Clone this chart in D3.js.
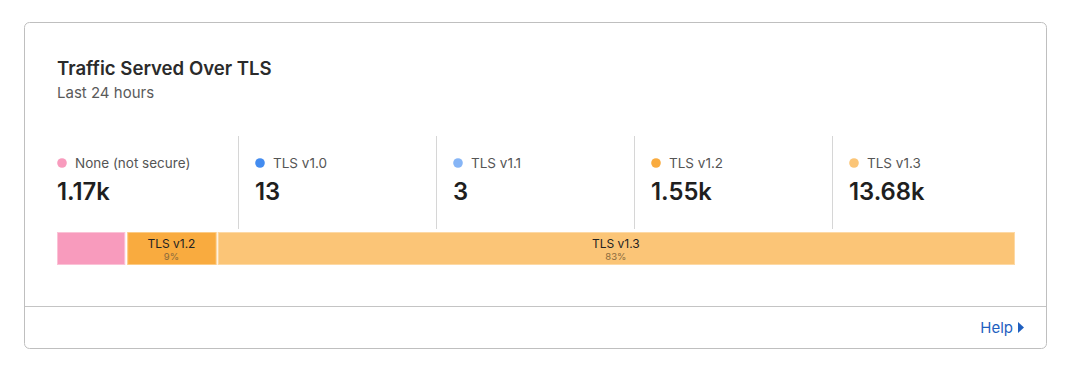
<!DOCTYPE html>
<html>
<head>
<meta charset="utf-8">
<script src="https://cdn.jsdelivr.net/npm/d3@7"></script>
<style>
  html, body { margin: 0; padding: 0; background: #fff; }
  svg { display: block; font-family: Inter, "Noto Sans", sans-serif; }
</style>
</head>
<body>
<svg id="chart" width="1067" height="369"></svg>
<script>
const categories = ["None (not secure)", "TLS v1.0", "TLS v1.1", "TLS v1.2", "TLS v1.3"];
const shortLabels = ["None", "TLS v1.0", "TLS v1.1", "TLS v1.2", "TLS v1.3"];
const values = [1170, 13, 3, 1550, 13680];
const valueLabels = ["1.17k", "13", "3", "1.55k", "13.68k"];
const colors = ["#f89bbd", "#438cf0", "#86b5f6", "#f9ab3f", "#fbc577"];
const edgeColors = ["#fbc2d6", "#8fbaf6", "#b6d3fa", "#fccb85", "#fdd9a5"];
const title = "Traffic Served Over TLS";
const subtitle = "Last 24 hours";
const helpText = "Help";

const svg = d3.select("#chart");

// Card
svg.append("rect").attr("x", 24.5).attr("y", 22.5).attr("width", 1022).attr("height", 326)
  .attr("rx", 5).attr("fill", "#fff").attr("stroke", "#bfbfbf");
svg.append("line").attr("x1", 25).attr("x2", 1046).attr("y1", 306.5).attr("y2", 306.5)
  .attr("stroke", "#c4c4c4");

svg.append("text").attr("x", 57).attr("y", 75).text(title)
  .attr("font-size", 18.6).attr("font-weight", 600).attr("fill", "#2b2b2b");
svg.append("text").attr("x", 57).attr("y", 98).text(subtitle)
  .attr("font-size", 15).attr("fill", "#5a5a5a");

// Columns
const col = d3.scaleBand().domain(categories).range([40, 1030]);
const g = svg.selectAll("g.col").data(categories).join("g").attr("class", "col")
  .attr("transform", d => `translate(${col(d)},0)`);
g.filter((d, i) => i > 0).append("line")
  .attr("x1", 0.5).attr("x2", 0.5).attr("y1", 136).attr("y2", 229)
  .attr("stroke", "#d6d6d6");
g.append("circle").attr("cx", 22).attr("cy", 163).attr("r", 4.8)
  .attr("fill", (d, i) => colors[i]);
g.append("text").attr("x", 35).attr("y", 168).text(d => d)
  .attr("font-size", 13.5).attr("fill", "#555");
g.append("text").attr("x", 17).attr("y", 200).text((d, i) => valueLabels[i])
  .attr("font-size", 23.8).attr("font-weight", 600).attr("fill", "#1f1f1f");

// Stacked bar
const total = d3.sum(values);
const x = d3.scaleLinear().domain([0, total]).range([57, 1015]);
const starts = d3.cumsum([0, ...values]);
const segs = values.map((v, i) => ({ i, v, x0: x(starts[i]), x1: x(starts[i] + v), pct: v / total }));
const barY = 232, barH = 33;
const bar = svg.append("g");
bar.selectAll("rect").data(segs).join("rect")
  .attr("x", d => d.x0 + (d.i > 0 ? 1 : 0) + 0.5)
  .attr("y", barY + 0.5)
  .attr("width", d => Math.max(0, d.x1 - d.x0 - (d.i > 0 ? 1 : 0) - 1))
  .attr("height", barH - 1)
  .attr("fill", d => colors[d.i])
  .attr("stroke", d => edgeColors[d.i])
  .attr("stroke-width", 1);
const labeled = segs.filter(d => d.x1 - d.x0 > 80);
bar.selectAll("text.lab").data(labeled).join("text").attr("class", "lab")
  .attr("x", d => (d.x0 + d.x1) / 2).attr("y", 247.5).attr("text-anchor", "middle")
  .attr("font-size", 12).attr("fill", "#222").text(d => shortLabels[d.i]);
bar.selectAll("text.pct").data(labeled).join("text").attr("class", "pct")
  .attr("x", d => (d.x0 + d.x1) / 2).attr("y", 260).attr("text-anchor", "middle")
  .attr("font-size", 9.5).attr("fill", "#8a6a3c").text(d => d3.format(".0%")(d.pct));

// Help link
svg.append("text").attr("x", 1013).attr("y", 333).attr("text-anchor", "end")
  .attr("font-size", 15).attr("fill", "#1f5fbf").text(helpText);
svg.append("path").attr("d", "M1018,322 L1024,327.5 L1018,333 Z").attr("fill", "#1f5fbf");
</script>
</body>
</html>
